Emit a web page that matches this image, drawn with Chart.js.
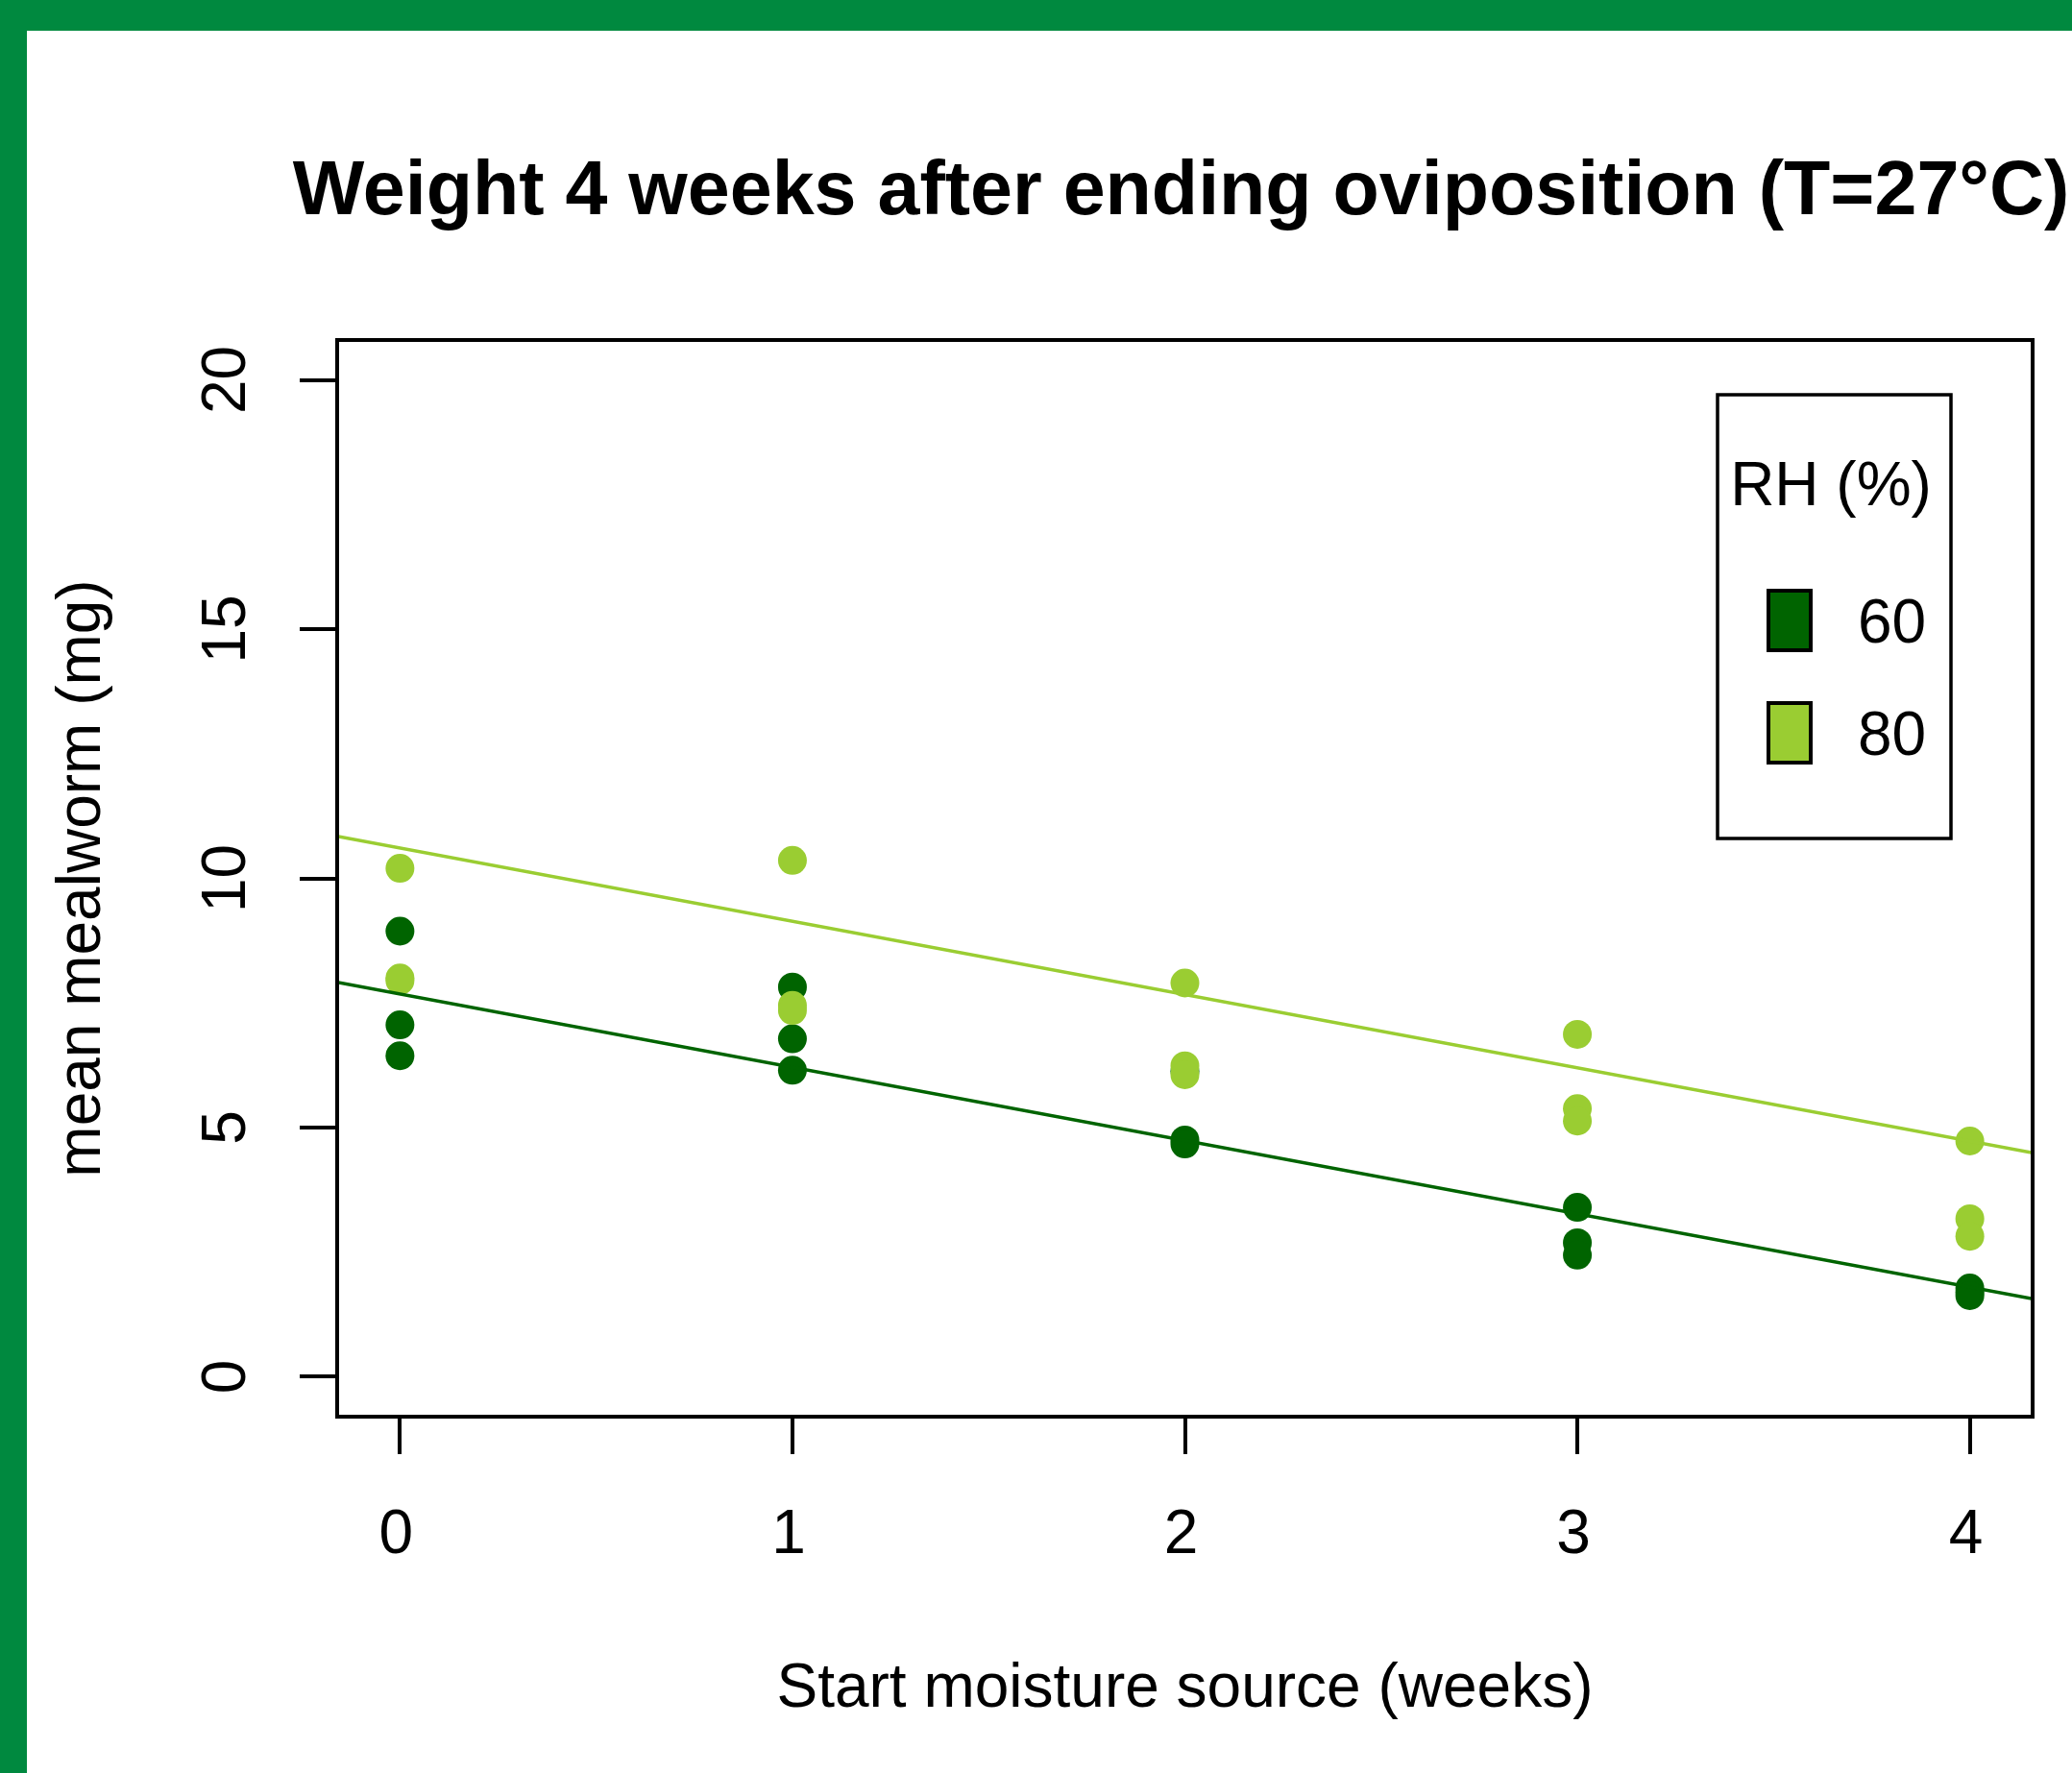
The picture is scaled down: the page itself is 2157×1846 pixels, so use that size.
<!DOCTYPE html>
<html>
<head>
<meta charset="utf-8">
<title>Weight 4 weeks after ending oviposition</title>
<script src="https://cdn.jsdelivr.net/npm/chart.js@4.4.1/dist/chart.umd.min.js"></script>
<style>
    html, body { margin: 0; padding: 0; background: #fff; }
    #wrap { position: relative; width: 2157px; height: 1846px; }
</style>
</head>
<body>
<div id="wrap"><canvas id="chart"></canvas></div>
<script>
// Values
const xTicks = [0, 1, 2, 3, 4];
const yTicks = [0, 5, 10, 15, 20];
const rhLevels = ['60', '80'];
const rhColors = ['#006400', '#9acd32'];

// week of the moisture start, one per replicate
const weekOf = [0, 0, 0, 1, 1, 1, 2, 2, 2, 3, 3, 3, 4, 4, 4];
// mean mealworm weight (mg) per replicate
const rh60 = [8.94, 7.06, 6.44, 7.82, 6.78, 6.15, 6.13, 4.75, 4.67, 3.40, 2.69, 2.44, 1.78, 1.70, 1.63];
const rh80 = [10.20, 8.00, 7.95, 10.36, 7.45, 7.35, 7.90, 6.24, 6.06, 6.87, 5.38, 5.13, 4.73, 3.17, 2.82];

// fitted lines per RH level
const fitIntercept = [7.68, 10.61];
const fitSlope = [-1.47, -1.47];

const xRange = [-0.16, 4.16];
const yRange = [-0.8, 20.8];

const FONT = '"Liberation Sans", Arial, Helvetica, sans-serif';
const FRAME_GREEN = '#00893f';

function points(values) {
    return values.map((v, i) => ({ x: weekOf[i], y: v }));
}

function fitLine(k) {
    return xRange.map(x => ({ x: x, y: fitIntercept[k] + fitSlope[k] * x }));
}

// Background, green frame, box, rotated labels, title and legend
const decorations = {
    id: 'decorations',
    beforeDraw(chart) {
        const ctx = chart.ctx;
        ctx.save();
        ctx.fillStyle = '#fff';
        ctx.fillRect(0, 0, chart.width, chart.height);
        ctx.fillStyle = FRAME_GREEN;
        ctx.fillRect(0, 0, chart.width, 32);
        ctx.fillRect(0, 0, 28, chart.height);
        ctx.restore();
    },
    afterDraw(chart) {
        const ctx = chart.ctx;
        const area = chart.chartArea;
        const yScale = chart.scales.y;
        const midX = (area.left + area.right) / 2;
        const midY = (area.top + area.bottom) / 2;

        ctx.save();
        // plot box
        ctx.strokeStyle = '#000';
        ctx.lineWidth = 4;
        ctx.strokeRect(area.left, area.top, area.right - area.left, area.bottom - area.top);

        ctx.fillStyle = '#000';

        // main title
        ctx.font = `bold 79px ${FONT}`;
        ctx.textAlign = 'center';
        ctx.textBaseline = 'alphabetic';
        ctx.fillText('Weight 4 weeks after ending oviposition (T=27°C)', midX - 4, 223);

        // x axis title
        ctx.font = `64px ${FONT}`;
        ctx.fillText('Start moisture source (weeks)', midX, 1777);

        // y tick labels, parallel to the axis
        yTicks.forEach(v => {
            ctx.save();
            ctx.translate(area.left - 96, yScale.getPixelForValue(v));
            ctx.rotate(-Math.PI / 2);
            ctx.fillText(String(v), 0, 0);
            ctx.restore();
        });

        // y axis title
        ctx.save();
        ctx.translate(104, midY);
        ctx.rotate(-Math.PI / 2);
        ctx.fillText('mean mealworm (mg)', 0, 0);
        ctx.restore();

        // legend
        const lx = area.right - 328;
        const ly = area.top + 57;
        ctx.lineWidth = 3.5;
        ctx.strokeRect(lx, ly, 243, 462);
        ctx.textBaseline = 'middle';
        ctx.fillText('RH (%)', lx + 118, ly + 97);
        ctx.textAlign = 'left';
        rhLevels.forEach((label, i) => {
            const cy = ly + 235 + i * 117;
            ctx.fillStyle = rhColors[i];
            ctx.fillRect(lx + 53, cy - 31, 44, 62);
            ctx.lineWidth = 4;
            ctx.strokeRect(lx + 53, cy - 31, 44, 62);
            ctx.fillStyle = '#000';
            ctx.fillText(label, lx + 146, cy + 5);
        });
        ctx.restore();
    }
};

const axisGrid = {
    drawOnChartArea: false,
    drawTicks: true,
    tickLength: 39,
    lineWidth: 4,
    color: '#000'
};

new Chart(document.getElementById('chart'), {
    type: 'scatter',
    data: {
        datasets: [
            {
                type: 'line',
                label: 'fit 60',
                data: fitLine(0),
                borderColor: rhColors[0],
                borderWidth: 3.5,
                pointRadius: 0,
                order: 0
            },
            {
                type: 'line',
                label: 'fit 80',
                data: fitLine(1),
                borderColor: rhColors[1],
                borderWidth: 3.5,
                pointRadius: 0,
                order: 0
            },
            {
                label: rhLevels[1],
                data: points(rh80),
                backgroundColor: rhColors[1],
                borderWidth: 0,
                pointRadius: 15,
                order: 1
            },
            {
                label: rhLevels[0],
                data: points(rh60),
                backgroundColor: rhColors[0],
                borderWidth: 0,
                pointRadius: 15,
                order: 2
            }
        ]
    },
    options: {
        responsive: true,
        maintainAspectRatio: false,
        animation: false,
        layout: { padding: { top: 354, right: 41, left: 0, bottom: 0 } },
        plugins: {
            legend: { display: false },
            tooltip: { enabled: false },
            title: { display: false }
        },
        scales: {
            x: {
                type: 'linear',
                position: 'bottom',
                min: xRange[0],
                max: xRange[1],
                afterBuildTicks: s => { s.ticks = xTicks.map(v => ({ value: v })); },
                afterFit: s => { s.height = 371; },
                grid: axisGrid,
                border: { display: false },
                ticks: {
                    color: '#000',
                    font: { family: FONT, size: 64 },
                    padding: 47,
                    labelOffset: -4,
                    maxRotation: 0,
                    autoSkip: false
                }
            },
            y: {
                type: 'linear',
                min: yRange[0],
                max: yRange[1],
                afterBuildTicks: s => { s.ticks = yTicks.map(v => ({ value: v })); },
                afterFit: s => { s.width = 351; },
                grid: axisGrid,
                border: { display: false },
                ticks: { display: false }
            }
        }
    },
    plugins: [decorations]
});
</script>
</body>
</html>
